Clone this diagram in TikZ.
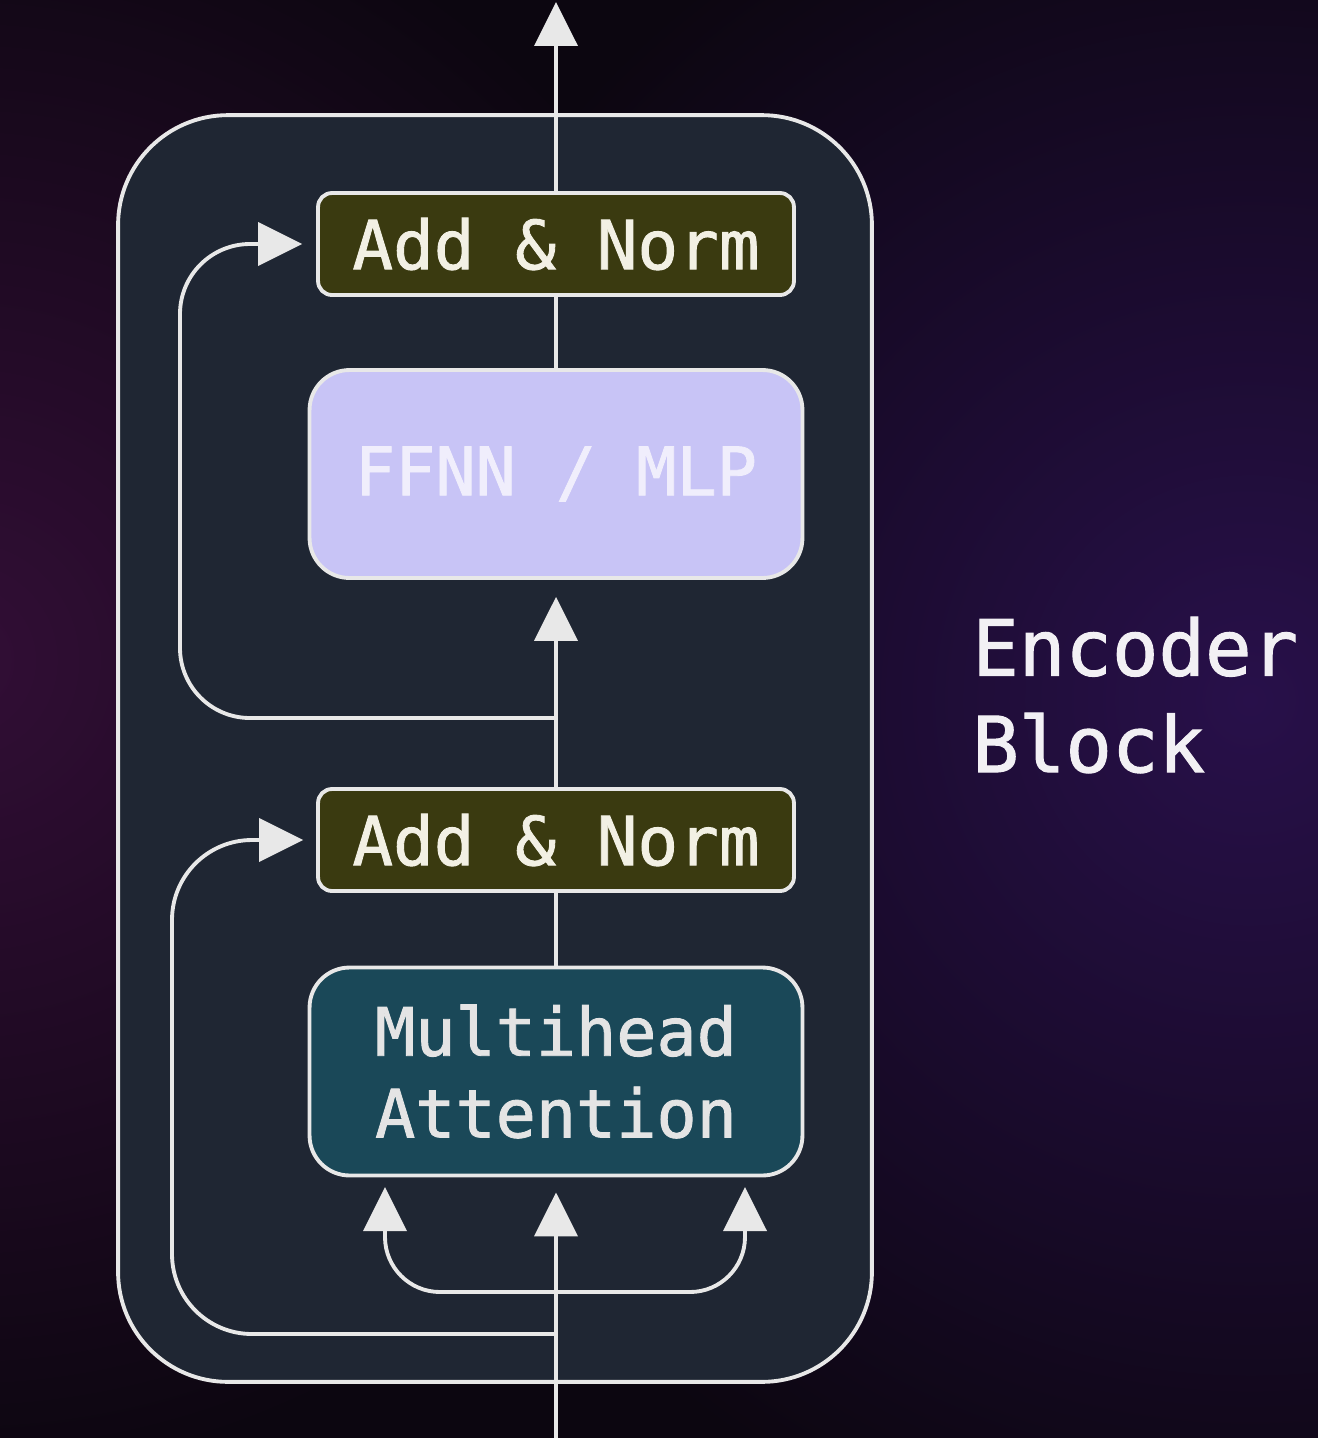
\documentclass[tikz,border=0pt]{standalone}
\usepackage{fontspec}
\setmonofont{DejaVu Sans Mono}
\newfontfamily\heavymono{DejaVu Sans Mono}[FakeBold=1.3]
\usepackage{xcolor}
\usepackage{tikz}
\usetikzlibrary{positioning,arrows.meta,calc}

\definecolor{bgbase}{RGB}{12,6,16}
\definecolor{glowleft}{RGB}{50,14,54}
\definecolor{glowright}{RGB}{40,16,74}
\definecolor{panelfill}{RGB}{31,38,51}
\definecolor{linecol}{RGB}{232,232,232}
\definecolor{normfill}{RGB}{58,58,16}
\definecolor{normtxt}{RGB}{242,240,228}
\definecolor{ffnnfill}{RGB}{200,196,246}
\definecolor{ffnntxt}{RGB}{240,238,252}
\definecolor{mhafill}{RGB}{26,72,88}
\definecolor{mhatxt}{RGB}{228,228,228}
\definecolor{labeltxt}{RGB}{242,240,244}

\begin{document}
\begin{tikzpicture}[
  x=0.02cm, y=-0.02cm,
  font=\heavymono,
  block/.style   = {draw=linecol, line width=2.2pt, fill=panelfill,
                    rounded corners=2.2cm,
                    minimum width=15.08cm, minimum height=25.34cm},
  addnorm/.style = {draw=linecol, line width=2.2pt, fill=normfill,
                    rounded corners=0.28cm, text=normtxt,
                    minimum width=9.52cm, minimum height=2.04cm,
                    font=\heavymono\fontsize{38.5}{46}\selectfont},
  layer/.style   = {draw=linecol, line width=2.2pt, align=center,
                    rounded corners=0.8cm,
                    minimum width=9.86cm, minimum height=4.16cm,
                    font=\heavymono\fontsize{38}{46.5}\selectfont},
  link/.style    = {draw=linecol, line width=2.2pt},
  arr/.style     = {link, -{Triangle[length=0.88cm,width=0.86cm]}}
]
\useasboundingbox (0,0) rectangle (1318,1438);

% Background
\fill[bgbase] (0,0) rectangle (1318,1438);
\begin{scope}
  \clip (0,0) rectangle (1318,1438);
  \shade[inner color=glowleft, outer color=bgbase] (-40,660) circle (820);
  \shade[inner color=glowright, outer color=bgbase] (1250,700) circle (900);
\end{scope}

% Encoder block and its layers
\node[block] (enc) at (495,748.5) {};
\node[addnorm] (addtop) at (556,244) {Add \& Norm};
\node[layer, fill=ffnnfill, text=ffnntxt] (ffnn) at (556,474) {FFNN / MLP};
\node[addnorm] (addbot) at (556,840) {Add \& Norm};
\node[layer, fill=mhafill, text=mhatxt] (mha) at (556,1071.5) {Multihead\\Attention};

% Label
\node[anchor=west, align=left, inner sep=0pt, text=labeltxt,
      font=\heavymono\fontsize{44}{55}\selectfont] (title) at (972,695) {Encoder\\Block};

% Free ends and branch points
\coordinate (out)   at (556,2);
\coordinate (in)    at (556,1438);
\coordinate (sk1)   at (556,718);
\coordinate (sk2)   at (556,1334);
\coordinate (fk)    at (556,1292);
\coordinate (lane1) at (180,0);
\coordinate (lane2) at (172,0);
\coordinate (qin)   at (385,1187);
\coordinate (kin)   at (745,1187);

% Main path
\draw[link] (in) -- (fk);
\draw[arr, shorten >=0.3cm] (fk) -- (mha.south);
\draw[link] (mha.north) -- (addbot.south);
\draw[arr, shorten >=0.34cm] (addbot.north) -- (ffnn.south);
\draw[link] (ffnn.north) -- (addtop.south);
\draw[arr] (addtop.north) -- (out);

% Query / key inputs
\draw[arr, rounded corners=1.1cm] (fk) -| (qin);
\draw[arr, rounded corners=1.1cm] (fk) -| (kin);

% Residual connections
\draw[arr, rounded corners=1.6cm, shorten >=0.26cm]
  (sk2) -| (lane2 |- addbot.west) -- (addbot.west);
\draw[arr, rounded corners=1.4cm, shorten >=0.28cm]
  (sk1) -| (lane1 |- addtop.west) -- (addtop.west);
\end{tikzpicture}
\end{document}
